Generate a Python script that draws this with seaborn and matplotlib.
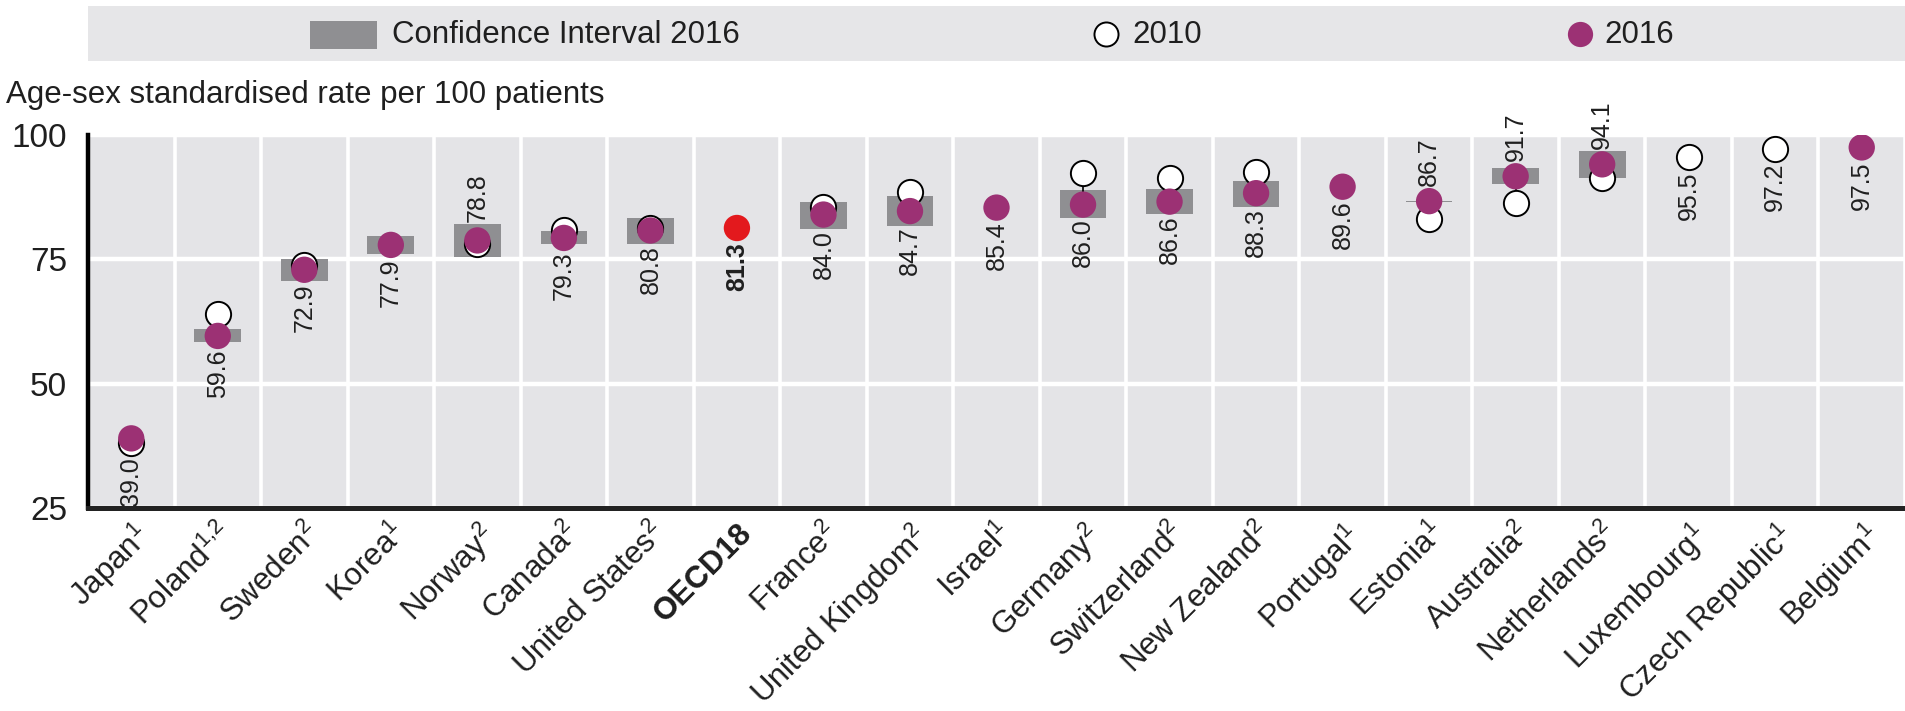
import numpy as np
import pandas as pd
import matplotlib
matplotlib.use("Agg")
import matplotlib.pyplot as plt
import seaborn as sns
from matplotlib.patches import Rectangle

nan = np.nan

# ---------------- data ----------------
countries = ["Japan", "Poland", "Sweden", "Korea", "Norway", "Canada", "United States",
             "OECD18", "France", "United Kingdom", "Israel", "Germany", "Switzerland",
             "New Zealand", "Portugal", "Estonia", "Australia", "Netherlands",
             "Luxembourg", "Czech Republic", "Belgium"]
notes = ["1", "1,2", "2", "1", "2", "2", "2", "", "2", "2", "1", "2", "2", "2",
         "1", "1", "2", "2", "1", "1", "1"]
rate_2016 = [39.0, 59.6, 72.9, 77.9, 78.8, 79.3, 80.8, 81.3, 84.0, 84.7, 85.4, 86.0,
             86.6, 88.3, 89.6, 86.7, 91.7, 94.1, nan, nan, 97.5]
rate_2010 = [38.0, 64.1, 73.9, nan, 78.1, 80.8, 81.3, nan, 85.6, 88.6, nan, 92.3,
             91.4, 92.5, nan, 83.2, 86.4, 91.4, 95.5, 97.2, nan]
ci_low_2016 = [nan, 58.4, 70.6, 76.1, 75.4, 78.0, 78.1, nan, 81.1, 81.8, nan, 83.4,
               84.1, 85.5, nan, 86.6, 90.2, 91.4, nan, nan, nan]
ci_high_2016 = [nan, 61.0, 75.0, 79.6, 82.2, 80.7, 83.3, nan, 86.6, 87.8, nan, 88.9,
                89.2, 90.8, nan, 86.8, 93.4, 96.8, nan, nan, nan]
oecd_name = "OECD18"
y_ticks = [25, 50, 75, 100]
ylabel = "Age-sex standardised rate per 100 patients"
legend_labels = ["Confidence Interval 2016", "2010", "2016"]

# ---------------- style ----------------
PURPLE = "#9c3174"
RED = "#e3191d"
CI_GRAY = "#8f8f92"
BG = "#e4e4e7"
BAND = "#e6e6e8"
TXT = "#1f1f1f"

sns.set_theme(style="white")
plt.rcParams["font.family"] = ["Liberation Sans", "DejaVu Sans"]
plt.rcParams["mathtext.fontset"] = "custom"
plt.rcParams["mathtext.rm"] = "Liberation Sans"

df = pd.DataFrame({
    "country": countries,
    "note": notes,
    "r2016": rate_2016,
    "r2010": rate_2010,
    "lo": ci_low_2016,
    "hi": ci_high_2016,
})
df["pos"] = np.arange(len(df))
df["group"] = np.where(df["country"] == oecd_name, "oecd", "country")

W, H = 1905, 711
fig = plt.figure(figsize=(W / 100, H / 100), dpi=100)
ax = fig.add_axes([88 / W, (H - 508) / H, (W - 88) / W, (508 - 135) / H])
ax.set_facecolor(BG)

# confidence interval rectangles
ci = df.dropna(subset=["lo", "hi"])
ax.bar(ci["pos"], ci["hi"] - ci["lo"], bottom=ci["lo"], width=0.54,
       color=CI_GRAY, zorder=2, linewidth=0)

# connector lines between 2010 and 2016
both = df.dropna(subset=["r2010", "r2016"])
ax.vlines(both["pos"], both["r2010"], both["r2016"], color="black", lw=1.2, zorder=2.5)

# 2010 rings
sns.scatterplot(data=df, x="pos", y="r2010", ax=ax, s=330, color="white",
                edgecolor="black", linewidth=1.4, zorder=3, legend=False)
# 2016 dots
sns.scatterplot(data=df, x="pos", y="r2016", hue="group",
                palette={"country": PURPLE, "oecd": RED}, ax=ax, s=360,
                linewidth=0, zorder=4, legend=False)

ax.set_xlim(-0.5, len(df) - 0.5)
ax.set_ylim(25, 100)
ax.set_xlabel("")
ax.set_ylabel("")

# value labels
for _, r in df.iterrows():
    v16, v10 = r["r2016"], r["r2010"]
    val = v16 if not np.isnan(v16) else v10
    above = (not np.isnan(v16)) and (not np.isnan(v10)) and v10 < v16 and v16 > 50
    cands_low = [x for x in [v16 - 2.6, v10 - 2.6, r["lo"]] if not np.isnan(x)]
    cands_high = [x for x in [v16 + 2.6, r["hi"]] if not np.isnan(x)]
    bold = r["country"] == oecd_name
    if above:
        ax.text(r["pos"], max(cands_high) + 0.4, f"{val:.1f}", rotation=90,
                ha="center", va="bottom", fontsize=18, color=TXT,
                fontweight="bold" if bold else "normal", zorder=5)
    else:
        ax.text(r["pos"], min(cands_low) - 0.2, f"{val:.1f}", rotation=90,
                ha="center", va="top", fontsize=18, color=TXT,
                fontweight="bold" if bold else "normal", zorder=5)

# axes, ticks, grid
ax.set_yticks(y_ticks)
ax.set_yticklabels([str(t) for t in y_ticks], fontsize=24, color=TXT)
ax.set_xticks(df["pos"])
tick_labels = [c if n == "" else c + r"$^{\mathregular{" + n.replace(",", "{,}") + "}}$"
               for c, n in zip(df["country"], df["note"])]
ax.set_xticklabels(tick_labels, rotation=45, ha="right", rotation_mode="anchor",
                   fontsize=22.5, color=TXT)
for lab, c in zip(ax.get_xticklabels(), df["country"]):
    if c == oecd_name:
        lab.set_fontweight("bold")
ax.set_xticks(np.arange(-0.5, len(df), 1.0), minor=True)
ax.tick_params(axis="x", which="major", length=0, pad=7)
ax.tick_params(axis="x", which="minor", direction="in", length=8, width=1.3,
               color="black", top=False)
ax.tick_params(axis="y", which="major", direction="in", length=7, width=1.5,
               color="black", pad=15)
ax.grid(False)
ax.grid(which="minor", axis="x", color="white", lw=2.6)
ax.grid(which="major", axis="y", color="white", lw=3.2)
ax.set_axisbelow(True)
for s in ["top", "right"]:
    ax.spines[s].set_visible(False)
ax.spines["left"].set_linewidth(3.2)
ax.spines["left"].set_color("black")
ax.spines["bottom"].set_linewidth(3.6)
ax.spines["bottom"].set_color("#222222")
ax.spines["left"].set_zorder(6)
ax.spines["bottom"].set_zorder(6)

# y-axis title
fig.text(6 / W, 1 - 95 / H, ylabel, fontsize=22.5, color=TXT, ha="left", va="center")

# legend band
lax = fig.add_axes([88 / W, (H - 61) / H, (W - 88) / W, 55 / H])
lax.set_xlim(88, W)
lax.set_ylim(61, 6)
lax.set_facecolor(BAND)
lax.set_xticks([])
lax.set_yticks([])
for s in lax.spines.values():
    s.set_visible(False)
lax.add_patch(Rectangle((310, 21), 67, 28, color=CI_GRAY, lw=0))
lax.text(392, 35, legend_labels[0], fontsize=22.5, color=TXT, va="center", ha="left")
lax.scatter([1106], [34], s=300, color="white", edgecolor="black", linewidth=1.4)
lax.text(1132, 35, legend_labels[1], fontsize=22.5, color=TXT, va="center", ha="left")
lax.scatter([1580], [34], s=330, color=PURPLE, linewidth=0)
lax.text(1604, 35, legend_labels[2], fontsize=22.5, color=TXT, va="center", ha="left")

fig.savefig("out.png", dpi=100)
